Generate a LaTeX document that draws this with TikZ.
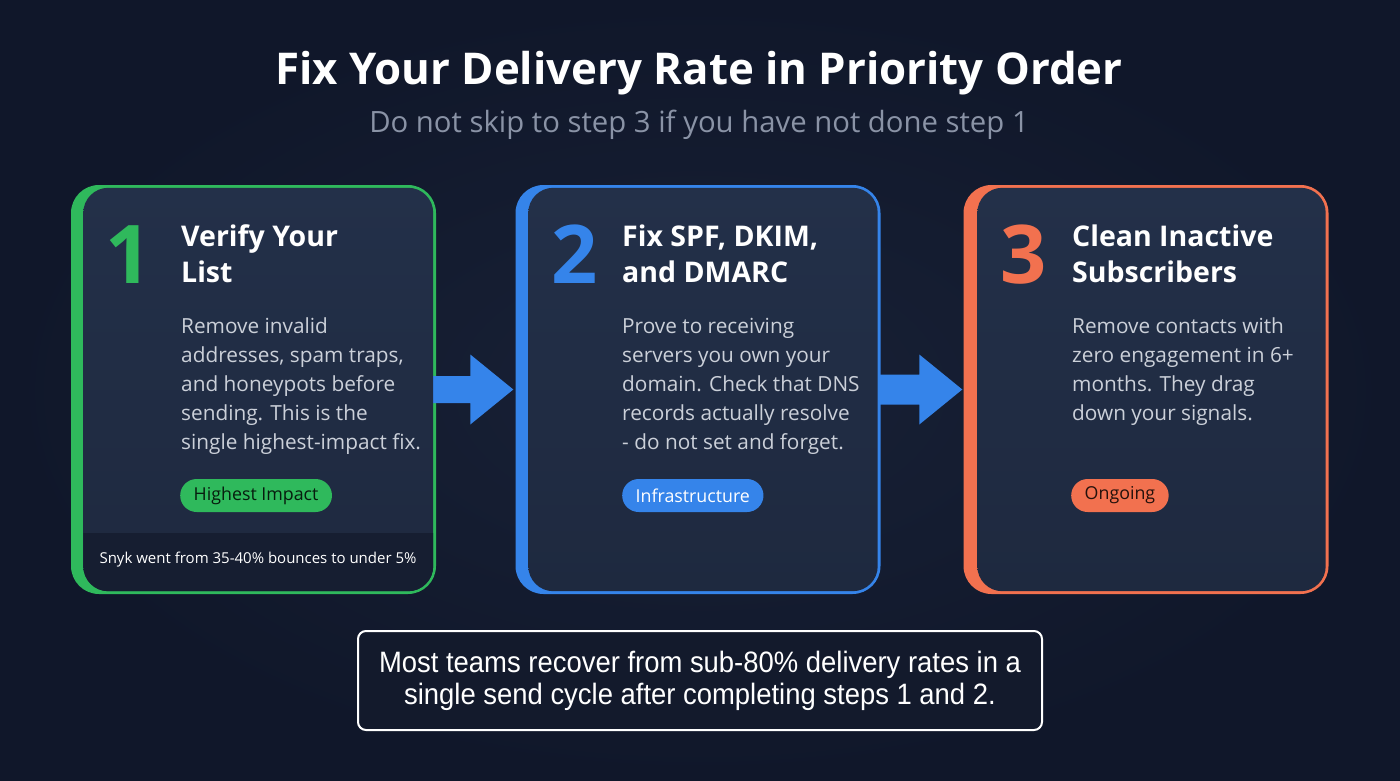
\documentclass[tikz,border=0pt]{standalone}
\usepackage{fontspec}
\setmainfont{Open Sans}
\newfontfamily\narrowfont[FakeStretch=0.93]{Liberation Sans}
\usetikzlibrary{calc}
\definecolor{bgA}{HTML}{182136}
\definecolor{bgB}{HTML}{10172A}
\definecolor{cardtop}{HTML}{233049}
\definecolor{cardbot}{HTML}{1E293F}
\definecolor{bandfill}{HTML}{161E31}
\definecolor{accgreen}{HTML}{2FB95C}
\definecolor{accblue}{HTML}{3584EA}
\definecolor{accorange}{HTML}{F2714F}
\definecolor{bodygray}{HTML}{CBD0D9}
\definecolor{subgray}{HTML}{8A93A6}
\definecolor{boxfill}{HTML}{131A2C}
\tikzset{
  cardframe/.style={rounded corners=28pt, minimum width=365pt, minimum height=409pt, inner sep=0pt},
  numtext/.style={anchor=base, inner sep=0pt, font=\fontsize{81}{81}\selectfont\bfseries},
  headtext/.style={anchor=base west, inner sep=0pt, align=left, text=white, font=\fontsize{28.5}{36}\selectfont\bfseries},
  bodytext/.style={anchor=base west, inner sep=0pt, align=left, text=bodygray, font=\fontsize{20.8}{29}\selectfont},
  pill/.style={anchor=west, rounded corners=16.5pt, minimum height=33pt, inner xsep=13.5pt, inner ysep=0pt, font=\fontsize{17.8}{17.8}\selectfont},
  blockarrow/.style={fill=accblue},
}
\begin{document}
\begin{tikzpicture}[x=1pt, y=-1pt]
\useasboundingbox (0,0) rectangle (1400,781);
\shade[inner color=bgA, outer color=bgB] (0,0) rectangle (1400,781);

% title
\node[anchor=base, text=white, inner sep=0pt, font=\fontsize{43.8}{43.8}\selectfont\bfseries] (title) at (699,85) {Fix Your Delivery Rate in Priority Order};
\node[anchor=base, text=subgray, inner sep=0pt, font=\fontsize{29.3}{29.3}\selectfont] (subtitle) at (699,132) {Do not skip to step 3 if you have not done step 1};

% card frames
\node[cardframe, fill=accgreen] (c1) at (253.5,389.5) {};
\node[cardframe, fill=accblue] (c2) at (698,389.5) {};
\node[cardframe, fill=accorange] (c3) at (1146,389.5) {};

% arrows
\fill[blockarrow] ($(c1.east)+(-3,-13.5)$) -- ($(c2.west)+(-45,-13.5)$) -- ($(c2.west)+(-45,-35)$) -- ($(c2.west)+(-2,0)$) -- ($(c2.west)+(-45,35)$) -- ($(c2.west)+(-45,13.5)$) -- ($(c1.east)+(-3,13.5)$) -- cycle;
\fill[blockarrow] ($(c2.east)+(-3,-15)$) -- ($(c3.west)+(-44,-15)$) -- ($(c3.west)+(-44,-35)$) -- ($(c3.west)+(-1,0)$) -- ($(c3.west)+(-44,35)$) -- ($(c3.west)+(-44,15)$) -- ($(c2.east)+(-3,15)$) -- cycle;

% card inner fills
\shade[top color=cardtop, bottom color=cardbot, rounded corners=25pt] ($(c1.north west)+(12.5,3)$) rectangle ($(c1.south east)+(-3,-3)$);
\shade[top color=cardtop, bottom color=cardbot, rounded corners=25pt] ($(c2.north west)+(13,3)$) rectangle ($(c2.south east)+(-3,-3)$);
\shade[top color=cardtop, bottom color=cardbot, rounded corners=25pt] ($(c3.north west)+(14,3)$) rectangle ($(c3.south east)+(-3,-3)$);

% card 1 band
\begin{scope}
\clip[rounded corners=25pt] ($(c1.north west)+(12.5,3)$) rectangle ($(c1.south east)+(-3,-3)$);
\fill[bandfill] ($(c1.south west)+(0,-61)$) rectangle (c1.south east);
\end{scope}
\node[anchor=base, inner sep=0pt, text=white, font=\fontsize{15}{15}\selectfont] (band1) at (258,563) {Snyk went from 35-40\% bounces to under 5\%};

% card 1
\node[numtext, text=accgreen] (n1) at (128.5,283) {1};
\node[headtext] (h1) at (181,282) {Verify Your\\List};
\node[bodytext] (b1) at (181,449) {Remove invalid\\addresses, spam traps,\\and honeypots before\\sending. This is the\\single highest-impact fix.};
\node[pill, fill=accgreen, text=black!85!accgreen] (p1) at (180,495.5) {Highest Impact};

% card 2
\node[numtext, text=accblue] (n2) at (574.5,283) {2};
\node[headtext] (h2) at (622,282) {Fix SPF, DKIM,\\and DMARC};
\node[bodytext] (b2) at (622,449) {Prove to receiving\\servers you own your\\domain. Check that DNS\\records actually resolve\\- do not set and forget.};
\node[pill, fill=accblue, text=white] (p2) at (622,495.5) {Infrastructure};

% card 3
\node[numtext, text=accorange] (n3) at (1023.5,283) {3};
\node[headtext] (h3) at (1072,282) {Clean Inactive\\Subscribers};
\node[bodytext] (b3) at (1072,420) {Remove contacts with\\zero engagement in 6+\\months. They drag\\down your signals.};
\node[pill, fill=accorange, text=black!85!accorange] (p3) at (1071,495.5) {Ongoing};

% bottom box
\draw[white, line width=2pt, fill=boxfill, rounded corners=8pt] (358,631) rectangle (1042,730);
\node[anchor=center, inner sep=0pt, align=center, text=white, font=\narrowfont\fontsize{29.5}{32}\selectfont] (note) at (700,681) {Most teams recover from sub-80\% delivery rates in a\\single send cycle after completing steps 1 and 2.};
\end{tikzpicture}
\end{document}
